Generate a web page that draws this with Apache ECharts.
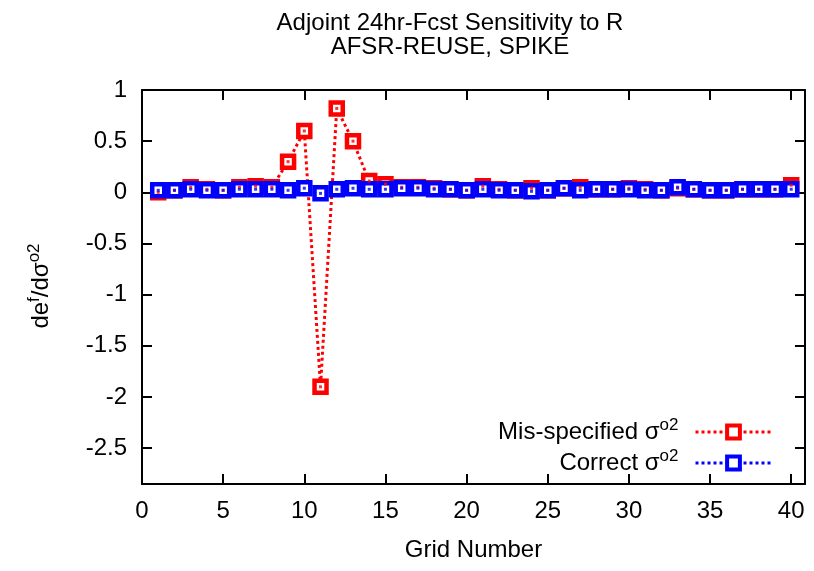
<!DOCTYPE html>
<html>
<head>
<meta charset="utf-8">
<script src="https://cdn.jsdelivr.net/npm/echarts@6/dist/echarts.min.js"></script>
<style>
html, body { margin: 0; padding: 0; background: #fff; }
#chart { width: 814px; height: 571px; }
</style>
</head>
<body>
<div id="chart"></div>
<script>
var chart = echarts.init(document.getElementById('chart'));

var gridNumber = [];
for (var i = 1; i <= 40; i++) gridNumber.push(i);

// Mis-specified sigma^o2
var misSpecified = [0.00, 0.02, 0.05, 0.03, 0.02, 0.05, 0.06, 0.05, 0.30, 0.60,
                    -1.90, 0.82, 0.50, 0.11, 0.08, 0.05, 0.05, 0.04, 0.03, 0.02,
                    0.06, 0.03, 0.02, 0.04, 0.02, 0.04, 0.05, 0.03, 0.03, 0.04,
                    0.03, 0.02, 0.04, 0.03, 0.02, 0.02, 0.03, 0.03, 0.03, 0.07];
// Correct sigma^o2
var correct = [0.02, 0.02, 0.03, 0.02, 0.02, 0.03, 0.03, 0.03, 0.02, 0.04,
               -0.01, 0.03, 0.04, 0.03, 0.03, 0.04, 0.04, 0.03, 0.03, 0.02,
               0.03, 0.02, 0.02, 0.01, 0.02, 0.04, 0.02, 0.03, 0.03, 0.03,
               0.02, 0.02, 0.05, 0.03, 0.02, 0.02, 0.03, 0.03, 0.03, 0.03];

var xTicks = [0, 5, 10, 15, 20, 25, 30, 35, 40];
var yTicks = [-2.5, -2, -1.5, -1, -0.5, 0, 0.5, 1];

var font = 'Liberation Sans, Arial, Helvetica, sans-serif';
var fs = 24;

function pairs(vals) {
    return vals.map(function (v, i) { return [gridNumber[i], v]; });
}

function makeAxis(position, min, max, ticks, showLabel) {
    var ax = {
        type: 'value',
        position: position,
        min: min,
        max: max,
        axisLine: { show: true, onZero: false, lineStyle: { color: '#000', width: 2 } },
        axisTick: { show: true, inside: true, length: 10, customValues: ticks, lineStyle: { color: '#000', width: 2 } },
        splitLine: { show: false }
    };
    if (showLabel) {
        ax.axisLabel = { customValues: ticks, fontSize: fs, color: '#000', fontFamily: font, margin: 15 };
    } else {
        ax.axisLabel = { show: false };
    }
    return ax;
}

var xMain = makeAxis('bottom', 0, 40.85, xTicks, true);
xMain.name = 'Grid Number';
xMain.nameLocation = 'middle';
xMain.nameGap = 54;
xMain.nameTextStyle = { fontSize: fs, color: '#000', fontFamily: font };
var xTop = makeAxis('top', 0, 40.85, xTicks, false);
var yMain = makeAxis('left', -2.85, 1, yTicks, true);
var yRight = makeAxis('right', -2.85, 1, yTicks, false);

function lineSeries(name, vals, color) {
    return {
        name: name,
        type: 'line',
        data: pairs(vals),
        symbol: 'rect',
        symbolSize: 12,
        showAllSymbol: true,
        lineStyle: { color: color, width: 3, type: 'dotted' },
        itemStyle: { color: '#fff', borderColor: color, borderWidth: 4.5 },
        emphasis: { disabled: true },
        z: 2
    };
}

function dotSeries(vals, color) {
    return {
        type: 'scatter',
        data: pairs(vals),
        symbol: 'rect',
        symbolSize: 3,
        itemStyle: { color: color },
        emphasis: { disabled: true },
        z: 3
    };
}

var supRich = {
    sup: { fontSize: 17, verticalAlign: 'bottom', padding: [0, 0, 13, 0], fontFamily: font, color: '#000' }
};

var option = {
    animation: false,
    backgroundColor: '#fff',
    title: {
        text: 'Adjoint 24hr-Fcst Sensitivity to R\nAFSR-REUSE, SPIKE',
        left: 445,
        top: 6,
        textAlign: 'center',
        textStyle: { fontSize: fs, fontWeight: 'normal', color: '#000', fontFamily: font, lineHeight: 24 }
    },
    grid: { left: 142, right: 9, top: 90, bottom: 87, containLabel: false },
    xAxis: [xMain, xTop],
    yAxis: [yMain, yRight],
    legend: {
        data: ['Mis-specified', 'Correct'],
        orient: 'vertical',
        align: 'right',
        right: 36,
        top: 412,
        itemWidth: 76,
        itemHeight: 16,
        itemGap: 4,
        itemStyle: { borderWidth: 4 },
        lineStyle: { width: 3 },
        formatter: function (name) {
            return name === 'Mis-specified' ? 'Mis-specified σ{sup|o2}' : 'Correct σ{sup|o2}';
        },
        textStyle: { fontSize: fs, color: '#000', fontFamily: font, rich: supRich, padding: [0, 12, 0, 0] }
    },
    graphic: [{
        type: 'text',
        x: 41,
        y: 286,
        rotation: Math.PI / 2,
        style: {
            text: 'de{sup|f}/dσ{sup|o2}',
            fontSize: fs,
            fill: '#000',
            fontFamily: font,
            align: 'center',
            verticalAlign: 'middle',
            rich: supRich
        }
    }],
    series: [
        lineSeries('Mis-specified', misSpecified, '#ff0000'),
        dotSeries(misSpecified, '#ff0000'),
        lineSeries('Correct', correct, '#0000ff'),
        dotSeries(correct, '#0000ff')
    ]
};

chart.setOption(option);
</script>
</body>
</html>
